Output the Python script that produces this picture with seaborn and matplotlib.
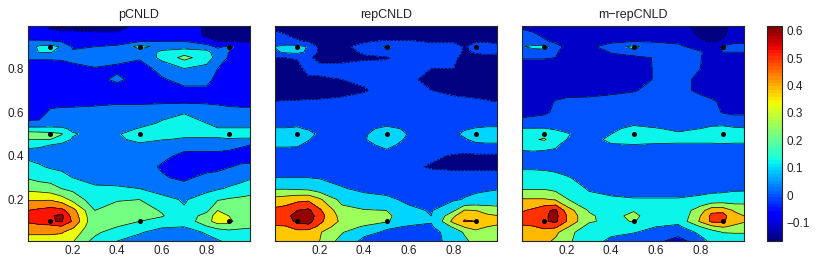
import numpy as np
import matplotlib
matplotlib.use('Agg')
import matplotlib.pyplot as plt
import seaborn as sns

x = [0.0, 0.05, 0.1, 0.15, 0.2, 0.3, 0.4, 0.5, 0.6, 0.7, 0.8, 0.85, 0.9, 0.95, 0.995]
y = [0.995, 0.95, 0.925, 0.9, 0.875, 0.85, 0.8, 0.75, 0.7, 0.65, 0.6, 0.55, 0.525, 0.5, 0.475, 0.45, 0.4, 0.35, 0.3, 0.25, 0.2, 0.15, 0.125, 0.1, 0.075, 0.05, 0.01]

pcnld = [
    [-.04, -.05, -.09, -.10, -.10, -.10, -.10, -.05, -.03, -.04, -.08, -.10, -.10, -.10, -.10],
    [-.02, -.02, -.03, -.04, -.04, -.05, -.05, -.03, -.02, -.03, -.08, -.09, -.09, -.09, -.09],
    [.03, .03, .025, .01, -.01, -.01, -.005, .01, .02, .02, -.05, -.07, -.075, -.08, -.08],
    [.06, .14, .16, .11, .01, .02, .03, .16, .08, .08, .07, .00, .04, -.01, -.03],
    [.06, .125, .13, .07, .03, .04, .05, .05, .14, .18, .15, .07, .02, -.01, -.03],
    [.03, .03, .03, .03, .04, .06, .05, .03, .15, .25, .17, .08, .01, -.02, -.03],
    [-.02, -.02, -.02, -.01, .00, .015, .00, -.02, .05, .12, .09, .02, -.02, -.03, -.03],
    [-.04, -.04, -.04, -.03, -.03, -.01, .04, -.02, .01, .05, .05, -.01, -.03, -.04, -.04],
    [-.05, -.05, -.05, -.05, -.04, -.03, -.03, -.03, -.03, .00, .00, -.03, -.04, -.05, -.05],
    [-.02, -.02, -.02, -.02, -.015, -.01, .00, .00, .00, .00, -.01, -.01, -.015, -.015, -.015],
    [-.04, -.03, .04, .05, .05, .06, .07, .07, .09, .115, .115, .08, .06, .05, .05],
    [.04, .04, .05, .06, .06, .07, .08, .09, .13, .15, .12, .09, .09, .09, .09],
    [.15, .15, .15, .14, .10, .08, .09, .125, .14, .15, .13, .125, .125, .125, .125],
    [.27, .26, .25, .23, .13, .09, .11, .17, .13, .14, .14, .14, .17, .15, .15],
    [.22, .22, .22, .17, .11, .07, .10, .15, .125, .11, .11, .11, .11, .11, .11],
    [.13, .13, .12, .10, .07, .05, .09, .10, .06, .05, .05, .05, .04, .03, .02],
    [.10, .09, .08, .07, .06, .05, .05, .05, .04, .00, .00, .00, .00, -.01, -.02],
    [.15, .13, .11, .10, .09, .07, .07, .06, .01, -.03, -.02, -.01, .015, .03, .04],
    [.21, .18, .17, .15, .12, .09, .09, .08, .03, .00, .05, .06, .08, .09, .11],
    [.30, .29, .27, .22, .19, .135, .13, .12, .08, .06, .09, .11, .13, .15, .17],
    [.42, .42, .42, .38, .30, .15, .21, .22, .15, .11, .17, .21, .23, .24, .25],
    [.53, .55, .57, .56, .47, .22, .27, .27, .21, .13, .19, .33, .27, .27, .27],
    [.56, .57, .59, .62, .50, .235, .27, .26, .23, .14, .27, .38, .33, .27, .27],
    [.55, .58, .59, .61, .52, .24, .27, .22, .17, .16, .28, .39, .36, .28, .27],
    [.47, .49, .50, .52, .45, .24, .22, .17, .13, .12, .21, .25, .29, .24, .23],
    [.45, .45, .45, .44, .38, .25, .15, .13, .08, .08, .13, .17, .17, .19, .19],
    [.38, .38, .38, .37, .34, .18, .12, .08, .06, .06, .09, .11, .14, .15, .15],
]
repcnld = [
    [-.04, -.05, -.07, -.08, -.08, -.10, -.10, -.10, -.10, -.10, -.10, -.10, -.10, -.10, -.10],
    [.00, -.015, -.04, -.05, -.06, -.07, -.07, -.07, -.07, -.07, -.07, -.07, -.07, -.07, -.07],
    [.03, .03, -.01, -.03, -.07, -.07, -.03, -.01, -.01, -.035, -.035, -.06, -.03, -.03, -.04],
    [.105, .13, .14, .09, -.05, -.04, .01, .12, .03, .02, .02, -.03, .02, .02, .00],
    [.08, .12, .13, .08, -.04, -.05, -.01, .04, .06, .05, .04, -.04, -.01, .00, -.005],
    [-.02, -.02, -.015, -.01, -.04, -.04, -.03, -.03, .04, .03, .00, -.05, -.05, -.05, -.05],
    [-.07, -.07, -.04, .00, .00, .00, .01, .02, .02, -.02, -.02, -.06, -.07, -.07, -.07],
    [-.08, -.08, -.05, -.03, -.03, -.02, .00, .02, .00, -.05, -.07, -.08, -.08, -.08, -.08],
    [-.08, -.08, -.07, -.07, -.06, -.05, -.03, .02, .03, -.02, -.05, -.05, -.06, -.06, -.07],
    [-.02, -.015, -.015, -.01, -.01, .00, .02, .03, .04, .04, .01, .00, -.005, -.015, -.025],
    [.02, .03, .03, .03, .03, .04, .05, .05, .05, .05, .05, .05, .05, .05, .05],
    [.07, .07, .08, .07, .06, .05, .07, .08, .07, .06, .06, .07, .07, .08, .08],
    [.105, .105, .11, .09, .07, .055, .085, .115, .09, .06, .07, .09, .105, .11, .11],
    [.15, .15, .15, .13, .08, .06, .09, .15, .095, .06, .08, .12, .15, .15, .15],
    [.125, .125, .13, .105, .07, .05, .095, .145, .085, .05, .06, .09, .125, .12, .12],
    [.11, .11, .11, .08, .06, .05, .07, .13, .06, .04, .04, .05, .08, .09, .09],
    [.06, .06, .05, .05, .05, .04, .05, .055, .03, .00, -.03, -.04, -.04, -.04, -.04],
    [.06, .06, .05, .05, .05, .04, .03, .02, .00, -.03, -.04, -.04, -.04, -.04, -.04],
    [.10, .10, .10, .10, .09, .06, .04, .03, .02, .02, .02, .02, .02, .02, .02],
    [.25, .25, .24, .23, .19, .11, .07, .05, .04, .04, .05, .06, .07, .08, .09],
    [.42, .44, .47, .48, .40, .22, .15, .13, .07, .06, .08, .11, .14, .16, .17],
    [.53, .55, .60, .62, .52, .30, .27, .26, .13, .09, .24, .39, .38, .34, .32],
    [.55, .58, .63, .65, .55, .33, .29, .30, .14, .10, .36, .47, .46, .40, .385],
    [.53, .56, .62, .64, .53, .35, .30, .28, .14, .11, .42, .51, .50, .43, .42],
    [.49, .49, .55, .56, .47, .30, .25, .12, .09, .08, .28, .39, .42, .38, .36],
    [.45, .45, .46, .45, .39, .27, .14, .08, .06, .05, .17, .28, .35, .34, .33],
    [.44, .44, .44, .42, .38, .21, .06, .02, .02, .03, .17, .23, .31, .33, .33],
]
mrepcnld = [
    [-.02, -.05, -.08, -.115, -.09, -.08, -.08, -.09, -.115, -.09, -.13, -.14, -.13, -.09, -.08],
    [.04, .03, -.02, -.06, -.08, -.08, -.07, -.07, -.07, -.07, -.12, -.13, -.12, -.08, -.07],
    [.06, .05, .02, -.03, -.07, -.07, -.03, -.005, -.01, -.02, -.10, -.12, -.10, -.03, -.025],
    [.115, .14, .16, .06, -.04, -.03, .06, .15, .05, .02, -.04, -.06, .02, .04, .04],
    [.07, .08, .07, .02, -.06, -.06, .005, .08, .06, .06, .01, -.05, .00, .00, .00],
    [.01, .01, .01, .00, -.05, -.05, -.02, -.04, .01, .03, .005, -.05, -.06, -.06, -.06],
    [-.07, -.07, -.07, -.07, -.07, -.07, -.06, -.05, .01, .03, .00, -.05, -.07, -.07, -.07],
    [-.07, -.07, -.07, -.07, -.07, -.07, -.06, -.05, .01, .03, -.02, -.05, -.07, -.07, -.07],
    [-.07, -.07, -.07, -.05, -.04, -.03, -.02, -.005, .02, .03, -.02, -.05, -.06, -.07, -.07],
    [-.06, -.06, -.03, .005, .02, .02, .03, .03, .03, .03, .03, .015, -.02, -.05, -.05],
    [-.04, -.03, -.02, .02, .03, .04, .05, .05, .05, .05, .05, .05, -.01, -.03, -.03],
    [.04, .05, .06, .06, .06, .07, .08, .10, .09, .08, .09, .10, .10, .09, .09],
    [.125, .125, .125, .105, .09, .07, .10, .145, .125, .105, .12, .135, .14, .13, .125],
    [.17, .19, .20, .17, .13, .07, .12, .17, .15, .13, .16, .17, .17, .16, .16],
    [.16, .24, .28, .16, .12, .07, .15, .17, .15, .14, .14, .14, .15, .15, .15],
    [.15, .16, .15, .14, .08, .06, .11, .115, .11, .11, .11, .11, .11, .105, .105],
    [.09, .09, .09, .08, .07, .05, .05, .05, .05, .05, .05, .05, .05, .05, .05],
    [.105, .105, .10, .09, .07, .05, .05, .05, .05, .05, .05, .05, .05, .05, .05],
    [.16, .16, .16, .15, .13, .08, .07, .07, .07, .07, .07, .07, .07, .08, .08],
    [.25, .25, .25, .22, .18, .11, .10, .09, .09, .09, .09, .09, .09, .10, .10],
    [.40, .40, .40, .38, .27, .15, .13, .125, .125, .125, .14, .16, .17, .18, .19],
    [.49, .52, .575, .62, .46, .25, .18, .25, .16, .15, .34, .47, .47, .38, .36],
    [.52, .55, .585, .63, .50, .28, .21, .30, .16, .14, .39, .53, .54, .43, .39],
    [.52, .56, .59, .62, .50, .28, .22, .27, .17, .16, .41, .52, .52, .43, .40],
    [.49, .49, .53, .52, .41, .21, .17, .19, .12, .09, .26, .36, .40, .37, .35],
    [.44, .44, .45, .42, .32, .16, .13, .125, .09, .06, .14, .19, .265, .27, .27],
    [.42, .42, .42, .37, .30, .14, .11, .07, .04, -.06, .09, .14, .17, .18, .18],
]

levels1 = [-.17, -.07, .02, .12, .22, .33, .43, .53, .60, .70]
levels2 = [-.17, -.02, .10, .26, .38, .50, .60, .70]
levels3 = [-.17, -.11, .00, .12, .26, .39, .50, .60, .70]

titles = ['pCNLD', 'repCNLD', 'm\u2212repCNLD']
dots_x = [0.1, 0.5, 0.9, 0.1, 0.5, 0.9, 0.1, 0.5, 0.9]
dots_y = [0.9, 0.9, 0.9, 0.5, 0.5, 0.5, 0.1, 0.1, 0.1]
ticks = [0.2, 0.4, 0.6, 0.8]
cbar_ticks = [-0.1, 0, 0.1, 0.2, 0.3, 0.4, 0.5, 0.6]

sns.set_style('ticks')
plt.rcParams['font.family'] = ['Liberation Sans', 'DejaVu Sans']

W, H = 825, 265
jet = plt.get_cmap('jet', 64)
norm = plt.Normalize(-0.167, 0.617)

fig = plt.figure(figsize=(W / 100, H / 100), dpi=100)


def px_axes(left, right, top, bottom):
    return fig.add_axes([left / W, 1 - bottom / H, (right - left) / W, (bottom - top) / H])


panels = [
    (28, 250, pcnld, levels1),
    (275, 497, repcnld, levels2),
    (522, 744, mrepcnld, levels3),
]

for i, (left, right, z, levels) in enumerate(panels):
    ax = px_axes(left, right, 26, 241)
    colors = [jet(norm(l)) for l in levels[:-1]]
    ax.contourf(x, y, np.array(z), levels=levels, colors=colors)
    ax.contour(x, y, np.array(z), levels=levels[1:-1], colors='k', linewidths=0.5)
    sns.scatterplot(x=dots_x, y=dots_y, color='k', s=13, linewidth=0, ax=ax, zorder=5)
    ax.set_xlim(0.0, 0.995)
    ax.set_ylim(0.01, 0.995)
    ax.set_xticks(ticks)
    ax.set_yticks(ticks)
    if i > 0:
        ax.set_yticklabels([])
    ax.tick_params(direction='in', length=2, width=0.5, top=True, right=True,
                   labelsize=8.5, pad=3, colors='#222222')
    ax.set_title(titles[i], fontsize=9, pad=6, color='#222222')
    for s in ax.spines.values():
        s.set_linewidth(0.8)

cax = px_axes(767, 782, 26, 241)
sm = plt.cm.ScalarMappable(norm=norm, cmap=jet)
cb = fig.colorbar(sm, cax=cax, ticks=cbar_ticks)
cb.ax.set_yticklabels(['\u22120.1', '0', '0.1', '0.2', '0.3', '0.4', '0.5', '0.6'])
cb.ax.tick_params(direction='in', length=2, width=0.5, labelsize=8.5, pad=3, colors='#222222')
cb.outline.set_linewidth(0.8)

fig.savefig('out.png', dpi=100)
